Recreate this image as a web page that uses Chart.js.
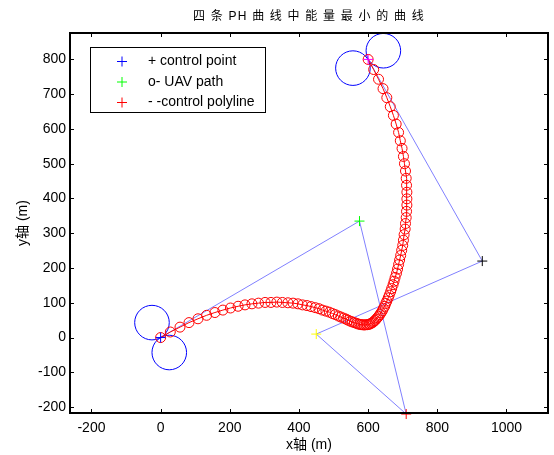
<!DOCTYPE html>
<html>
<head>
<meta charset="utf-8">
<title>PH curve</title>
<script src="https://cdn.jsdelivr.net/npm/chart.js@4.4.0/dist/chart.umd.min.js"></script>
<style>
  html, body { margin: 0; padding: 0; background: #fff; }
</style>
</head>
<body>
<canvas id="phChart" width="554" height="455"></canvas>
<script>
// control polygon of the quintic PH curve (metres)
const ctrlX = [0, 575, 710, 450, 930, 600];
const ctrlY = [0, 335, -220, 10, 220, 800];
const ctrlColors = ['#0000ff', '#00ff00', '#ff0000', '#ffff00', '#000000', '#ff00ff'];

// UAV path samples along the curve
const pathX = [
  0, 28, 56, 82, 108, 133, 157, 180, 202, 224,
  244, 264, 283, 302, 319, 336, 352, 368, 383, 397,
  410, 423, 435, 447, 458, 468, 478, 488, 497, 505,
  514, 521, 529, 536, 542, 549, 554, 560, 566, 571,
  576, 580, 585, 589, 594, 598, 602, 605, 609, 613,
  616, 620, 623, 627, 630, 634, 637, 641, 644, 648,
  651, 654, 658, 661, 665, 668, 672, 675, 678, 682,
  685, 688, 691, 694, 697, 700, 702, 704, 707, 708,
  710, 711, 712, 712, 712, 711, 710, 708, 705, 702,
  698, 693, 688, 681, 673, 664, 654, 643, 630, 616, 600
];
const pathY = [
  0, 16, 30, 43, 54, 64, 72, 79, 85, 90,
  94, 97, 99, 101, 101, 102, 101, 100, 99, 97,
  94, 92, 89, 86, 83, 79, 76, 73, 69, 66,
  62, 59, 56, 53, 50, 47, 45, 43, 41, 39,
  38, 37, 37, 36, 37, 37, 38, 39, 41, 43,
  46, 49, 53, 57, 61, 66, 71, 77, 84, 90,
  98, 105, 114, 122, 132, 141, 152, 162, 173, 185,
  197, 210, 223, 236, 251, 265, 280, 296, 312, 328,
  345, 363, 381, 399, 418, 438, 458, 479, 500, 521,
  544, 566, 590, 614, 639, 664, 690, 716, 743, 771, 800
];

// turning circles at the start and end points
const circleX = [-25, 25, 556, 644];
const circleY = [43, -43, 775, 825];
const circleR = 50;

const xTicks = [-200, 0, 200, 400, 600, 800, 1000];
const yTicks = [-200, -100, 0, 100, 200, 300, 400, 500, 600, 700, 800];

const legendLabels = ['+ control point', 'o- UAV path', '- -control polyline'];
const legendColors = ['#0000ff', '#00ff00', '#ff0000'];

const titleText = '四 条 PH 曲 线 中 能 量 最 小 的 曲 线';
const FONT = '"Liberation Sans", "Noto Sans CJK SC", sans-serif';

Chart.defaults.font.family = FONT;
Chart.defaults.color = '#000';

// blue circles, scaled with the axes
const circlesPlugin = {
  id: 'turnCircles',
  beforeDatasetsDraw(chart) {
    const { ctx, chartArea: a, scales: { x, y } } = chart;
    ctx.save();
    ctx.beginPath();
    ctx.rect(a.left, a.top, a.width, a.height);
    ctx.clip();
    ctx.strokeStyle = '#0000ff';
    ctx.lineWidth = 1;
    circleX.forEach((cx, i) => {
      const px = x.getPixelForValue(cx);
      const py = y.getPixelForValue(circleY[i]);
      const r = x.getPixelForValue(cx + circleR) - px;
      ctx.beginPath();
      ctx.arc(px, py, r, 0, Math.PI * 2);
      ctx.stroke();
    });
    ctx.restore();
  }
};

// box round the axes with inward ticks on all four sides
const framePlugin = {
  id: 'axesFrame',
  afterDatasetsDraw(chart) {
    const { ctx, chartArea: a, scales: { x, y } } = chart;
    const tl = 4;
    ctx.save();
    ctx.strokeStyle = '#000';
    ctx.lineWidth = 1;
    ctx.beginPath();
    xTicks.forEach(v => {
      const px = Math.round(x.getPixelForValue(v)) + 0.5;
      ctx.moveTo(px, a.bottom); ctx.lineTo(px, a.bottom - tl);
      ctx.moveTo(px, a.top); ctx.lineTo(px, a.top + tl);
    });
    yTicks.forEach(v => {
      const py = Math.round(y.getPixelForValue(v)) + 0.5;
      ctx.moveTo(a.left, py); ctx.lineTo(a.left + tl, py);
      ctx.moveTo(a.right, py); ctx.lineTo(a.right - tl, py);
    });
    ctx.stroke();
    ctx.lineWidth = 2;
    ctx.strokeRect(a.left, a.top, a.width, a.height);
    ctx.restore();
  }
};

// title over the axes
const titlePlugin = {
  id: 'plotTitle',
  afterDraw(chart) {
    const { ctx, chartArea: a } = chart;
    ctx.save();
    ctx.font = '12px ' + FONT;
    ctx.letterSpacing = '1.2px';
    ctx.fillStyle = '#000';
    ctx.textAlign = 'center';
    ctx.textBaseline = 'middle';
    ctx.fillText(titleText, (a.left + a.right) / 2, 17);
    ctx.restore();
  }
};

// legend box in the upper left corner
const legendPlugin = {
  id: 'boxLegend',
  afterDraw(chart) {
    const { ctx } = chart;
    const bx = 90.5, by = 47.5, bw = 175, bh = 65;
    ctx.save();
    ctx.fillStyle = '#fff';
    ctx.fillRect(bx, by, bw, bh);
    ctx.strokeStyle = '#000';
    ctx.lineWidth = 1;
    ctx.strokeRect(bx, by, bw, bh);
    ctx.font = '14px ' + FONT;
    ctx.textBaseline = 'middle';
    ctx.textAlign = 'left';
    legendLabels.forEach((label, i) => {
      const ry = 61.5 + i * 20.5;
      ctx.strokeStyle = legendColors[i];
      ctx.beginPath();
      ctx.moveTo(117, ry); ctx.lineTo(127, ry);
      ctx.moveTo(122, ry - 5); ctx.lineTo(122, ry + 5);
      ctx.stroke();
      ctx.fillStyle = '#000';
      ctx.fillText(label, 148, ry);
    });
    ctx.restore();
  }
};

const toPoints = (xs, ys) => xs.map((v, i) => ({ x: v, y: ys[i] }));

new Chart(document.getElementById('phChart'), {
  type: 'scatter',
  data: {
    datasets: [
      {
        label: 'control point',
        data: toPoints(ctrlX, ctrlY),
        showLine: false,
        pointStyle: 'cross',
        pointRadius: 5,
        pointBorderWidth: 1,
        pointBorderColor: ctrlColors,
        clip: false
      },
      {
        label: 'UAV path',
        data: toPoints(pathX, pathY),
        showLine: true,
        borderColor: '#ff0000',
        borderWidth: 1,
        pointRadius: 5,
        pointBorderWidth: 1,
        pointBorderColor: '#ff0000',
        pointBackgroundColor: 'rgba(0,0,0,0)'
      },
      {
        label: 'control polyline',
        data: toPoints(ctrlX, ctrlY),
        showLine: true,
        borderColor: '#8080ff',
        borderWidth: 1,
        pointRadius: 0
      }
    ]
  },
  options: {
    responsive: false,
    animation: false,
    events: [],
    layout: { padding: { top: 33, right: 2, left: 0, bottom: 0 } },
    plugins: {
      legend: { display: false },
      tooltip: { enabled: false }
    },
    scales: {
      x: {
        type: 'linear',
        min: -262,
        max: 1120,
        afterBuildTicks: s => { s.ticks = xTicks.map(v => ({ value: v })); },
        afterFit: s => { s.height = 42; },
        grid: { display: false, drawTicks: false },
        border: { display: false },
        ticks: { padding: 7, autoSkip: false, maxRotation: 0, font: { size: 14 }, callback: v => String(v) },
        title: { display: true, text: 'x轴 (m)', font: { size: 14 }, padding: { top: 0, bottom: 1.6 } }
      },
      y: {
        type: 'linear',
        min: -217,
        max: 876,
        afterBuildTicks: s => { s.ticks = yTicks.map(v => ({ value: v })); },
        afterFit: s => { s.width = 70; },
        grid: { display: false, drawTicks: false },
        border: { display: false },
        ticks: { padding: 4, autoSkip: false, font: { size: 14 }, callback: v => String(v) },
        title: { display: true, text: 'y轴 (m)', font: { size: 14 }, padding: { top: 14.3, bottom: 0 } }
      }
    }
  },
  plugins: [circlesPlugin, framePlugin, titlePlugin, legendPlugin]
});
</script>
</body>
</html>
